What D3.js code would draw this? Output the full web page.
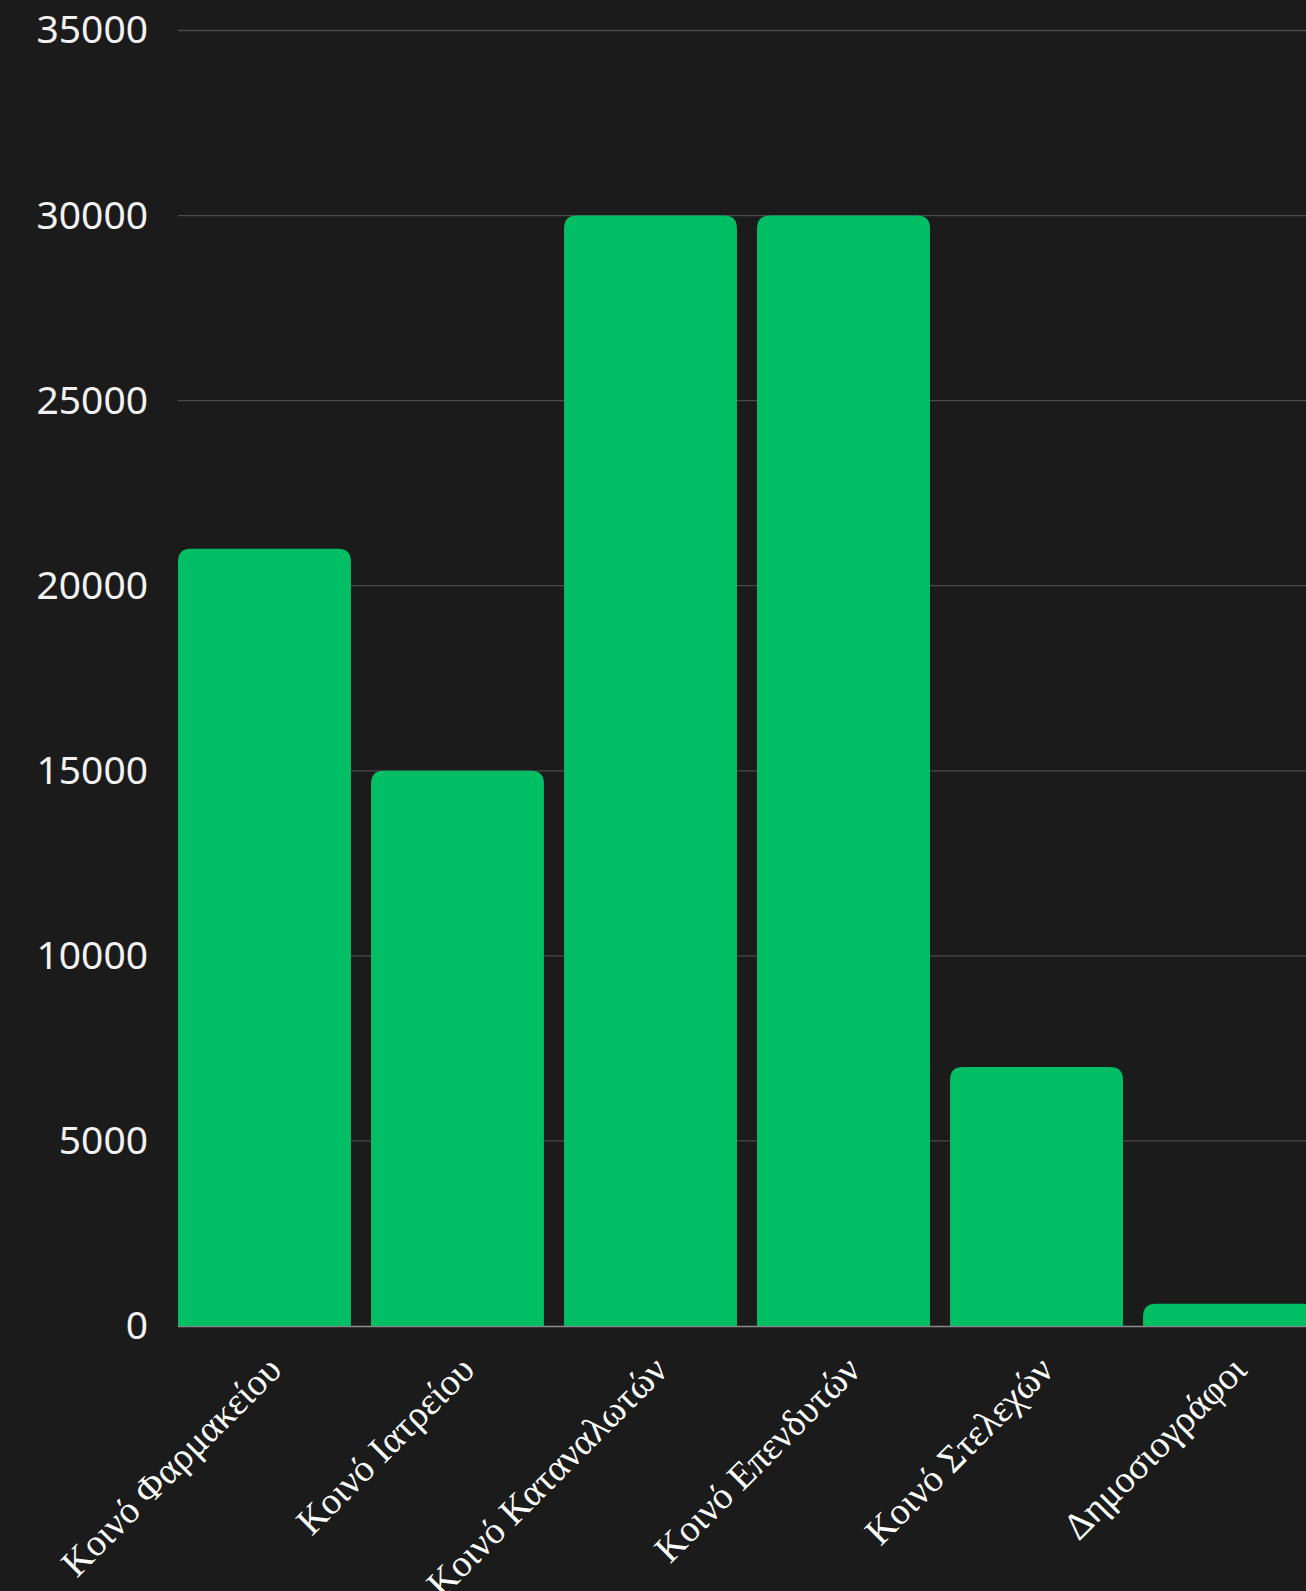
<!DOCTYPE html>
<html>
<head>
<meta charset="utf-8">
<script src="https://cdn.jsdelivr.net/npm/d3@7"></script>
<style>
  html, body { margin: 0; padding: 0; background: #1b1b1b; overflow: hidden; }
  svg { display: block; }
</style>
</head>
<body>
<svg id="chart" width="1306" height="1591"></svg>
<script>
const categories = ["Κοινό Φαρμακείου", "Κοινό Ιατρείου", "Κοινό Καταναλωτών", "Κοινό Επενδυτών", "Κοινό Στελεχών", "Δημοσιογράφοι"];
const values = [21000, 15000, 30000, 30000, 7000, 600];
const yTicks = [0, 5000, 10000, 15000, 20000, 25000, 30000, 35000];

const svg = d3.select("#chart");
const W = 1306, H = 1591;
const plotLeft = 178, plotRight = 1316, plotTop = 30.5, plotBottom = 1326;

const x = d3.scaleBand().domain(categories).range([plotLeft, plotRight]).paddingInner(0.104).paddingOuter(0);
const y = d3.scaleLinear().domain([0, 35000]).range([plotBottom, plotTop]);

svg.append("rect").attr("width", W).attr("height", H).attr("fill", "#1b1b1b");

// gridlines
svg.append("g").selectAll("line").data(yTicks.filter(d => d > 0)).join("line")
  .attr("x1", plotLeft).attr("x2", W)
  .attr("y1", d => y(d)).attr("y2", d => y(d))
  .attr("stroke", "#4a4a4a").attr("stroke-width", 1.3);

// y axis labels
const yAxis = d3.axisLeft(y).tickValues(yTicks).tickSize(0).tickPadding(30).tickFormat(d3.format("d"));
const yg = svg.append("g").attr("transform", `translate(${plotLeft},0)`).call(yAxis);
yg.select(".domain").remove();
yg.selectAll("text")
  .attr("fill", "#f2f2f2")
  .style("font-family", "'Noto Sans', 'Open Sans', sans-serif")
  .style("font-size", "39px");

// baseline
svg.append("line").attr("x1", plotLeft).attr("x2", W)
  .attr("y1", plotBottom + 0.5).attr("y2", plotBottom + 0.5)
  .attr("stroke", "#8a8a8a").attr("stroke-width", 1.5);

// bars with rounded top corners
function barPath(x0, w, yTop, yBot, r) {
  r = Math.min(r, w / 2, yBot - yTop);
  return `M${x0},${yBot}V${yTop + r}Q${x0},${yTop} ${x0 + r},${yTop}H${x0 + w - r}Q${x0 + w},${yTop} ${x0 + w},${yTop + r}V${yBot}Z`;
}
svg.append("g").selectAll("path").data(categories).join("path")
  .attr("d", (c, i) => barPath(x(c), x.bandwidth(), y(values[i]), y(0), 13))
  .attr("fill", "#00be64");

// x labels
svg.append("g").selectAll("text").data(categories).join("text")
  .attr("transform", c => `translate(${x(c) + x.bandwidth() / 2 + 19},${plotBottom + 46}) rotate(-45)`)
  .attr("text-anchor", "end")
  .attr("fill", "#ffffff")
  .style("font-family", "'Liberation Serif', serif")
  .style("font-size", "38px")
  .text(c => c);
</script>
</body>
</html>
